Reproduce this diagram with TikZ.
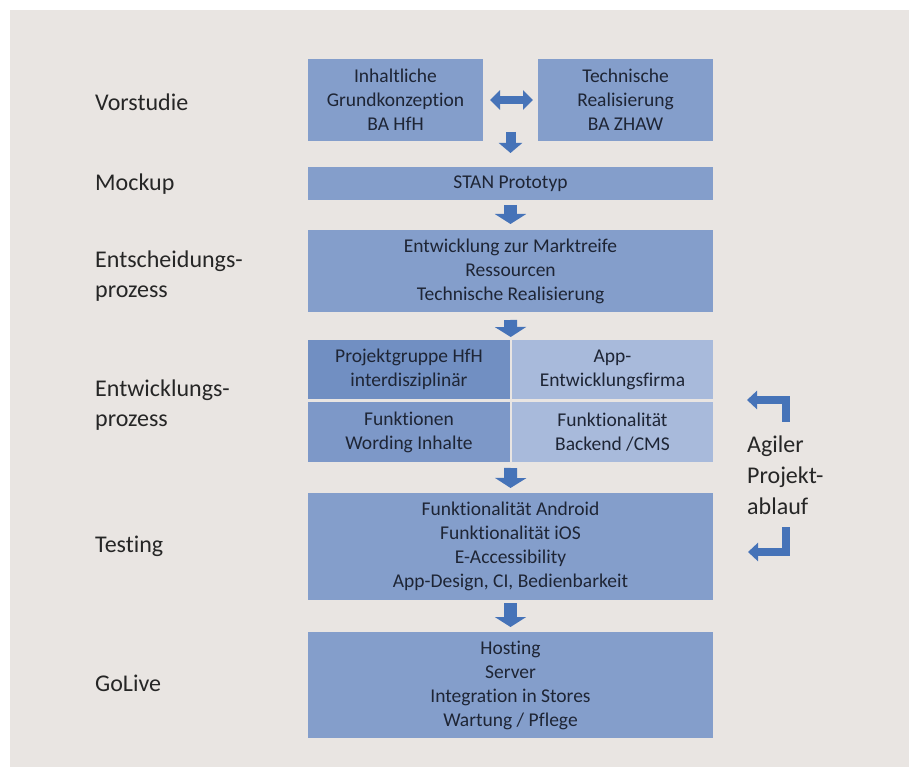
\documentclass[tikz,border=0pt]{standalone}
\usepackage{fontspec}
\setmainfont{Carlito}[Ligatures=NoCommon]
\usetikzlibrary{arrows.meta,calc}
\definecolor{bg}{HTML}{E9E5E2}
\definecolor{boxc}{HTML}{849ECB}
\definecolor{gridtl}{HTML}{718FC2}
\definecolor{gridbl}{HTML}{7D98C8}
\definecolor{gridr}{HTML}{A8BADB}
\definecolor{arr}{HTML}{4673B8}
\definecolor{txt}{HTML}{1E2535}
\definecolor{lbl}{HTML}{262626}
\begin{document}
\begin{tikzpicture}[x=1pt,y=-1pt,
  box/.style={fill=boxc, inner sep=0pt, outer sep=0pt, align=center,
    font=\fontsize{19.5}{24}\selectfont, text=txt},
  lab/.style={anchor=west, align=left, inner sep=0pt,
    font=\fontsize{24}{30}\selectfont, text=lbl},
  down/.style={draw=arr, line width=13pt, -{Triangle[width=31pt,length=10pt]}},
  firstdown/.style={draw=arr, line width=10pt, -{Triangle[width=23pt,length=10pt]}},
  dbl/.style={draw=arr, line width=8pt, {Triangle[width=19pt,length=10pt]}-{Triangle[width=19pt,length=10pt]}},
  bent/.style={draw=arr, line width=7.5pt, line join=miter, -{Triangle[width=18pt,length=10pt]}}
]
\useasboundingbox (0,0) rectangle (911,767);
\fill[white] (0,0) rectangle (911,767);
\fill[bg] (10,10) rectangle (909,767);

% left labels
\node[lab] (lvor) at (95,102) {Vorstudie};
\node[lab] (lmock) at (95,184) {Mockup};
\node[lab] (lent) at (95,276) {Entscheidungs-\\prozess};
\node[lab] (lentw) at (95,405) {Entwicklungs-\\prozess};
\node[lab] (ltest) at (95,546) {Testing};
\node[lab] (lgo) at (95,683) {GoLive};

% boxes
\node[box, minimum width=175pt, minimum height=82pt] (vl) at (395.5,100)
  {Inhaltliche\\Grundkonzeption\\BA HfH};
\node[box, minimum width=175pt, minimum height=82pt] (vr) at (625.5,100)
  {Technische\\Realisierung\\BA ZHAW};
\node[box, minimum width=405pt, minimum height=33pt] (stan) at (510.5,183.5)
  {STAN Prototyp};
\node[box, minimum width=405pt, minimum height=82pt] (ent) at (510.5,271)
  {Entwicklung zur Marktreife\\Ressourcen\\Technische Realisierung};
\node[box, fill=gridtl, minimum width=202pt, minimum height=59pt] (tl) at (409,369.5)
  {Projektgruppe HfH\\interdisziplinär};
\node[box, fill=gridr, minimum width=201pt, minimum height=59pt] (tr) at (612.5,369.5)
  {App-\\Entwicklungsfirma};
\node[box, fill=gridbl, minimum width=202pt, minimum height=60pt] (bl) at (409,432)
  {Funktionen\\Wording Inhalte};
\node[box, fill=gridr, minimum width=201pt, minimum height=60pt] (br) at (612.5,432)
  {Funktionalität\\Backend /CMS};
\node[box, minimum width=405pt, minimum height=107pt] (test) at (510.5,546.5)
  {Funktionalität Android\\Funktionalität iOS\\E-Accessibility\\App-Design, CI, Bedienbarkeit};
\node[box, minimum width=405pt, minimum height=106pt] (golive) at (510.5,685)
  {Hosting\\Server\\Integration in Stores\\Wartung / Pflege};

% right text
\node[lab, font=\fontsize{24}{31}\selectfont] (agile) at (747,475) {Agiler\\Projekt-\\ablauf};

% arrows
\draw[dbl, shorten <=7pt, shorten >=5pt] (vl.east) -- (vr.west);
\coordinate (gap) at ($(vl.south east)!0.5!(vr.south west)$);
\draw[firstdown, shorten <=-9pt, shorten >=14pt] (gap) -- (stan.north);
\draw[down, shorten <=5pt, shorten >=6pt] (stan.south) -- (ent.north);
\draw[down, shorten <=8pt, shorten >=3pt] (ent.south) -- ($(tl.north)!0.5!(tr.north)$);
\coordinate (gridbot) at ($(bl.south)!0.5!(br.south)$);
\draw[down, shorten <=6pt, shorten >=5pt] (gridbot) -- (test.north);
\draw[down, shorten <=3pt, shorten >=5pt] (test.south) -- (golive.north);

% agile bent arrows
\coordinate (a1) at (786,422);
\coordinate (a2) at (786,400);
\coordinate (a3) at (747,400);
\draw[bent] (a1) -- (a2) -- (a3);
\coordinate (b1) at (786,527);
\coordinate (b2) at (786,552);
\coordinate (b3) at (748,552);
\draw[bent] (b1) -- (b2) -- (b3);
\end{tikzpicture}
\end{document}
